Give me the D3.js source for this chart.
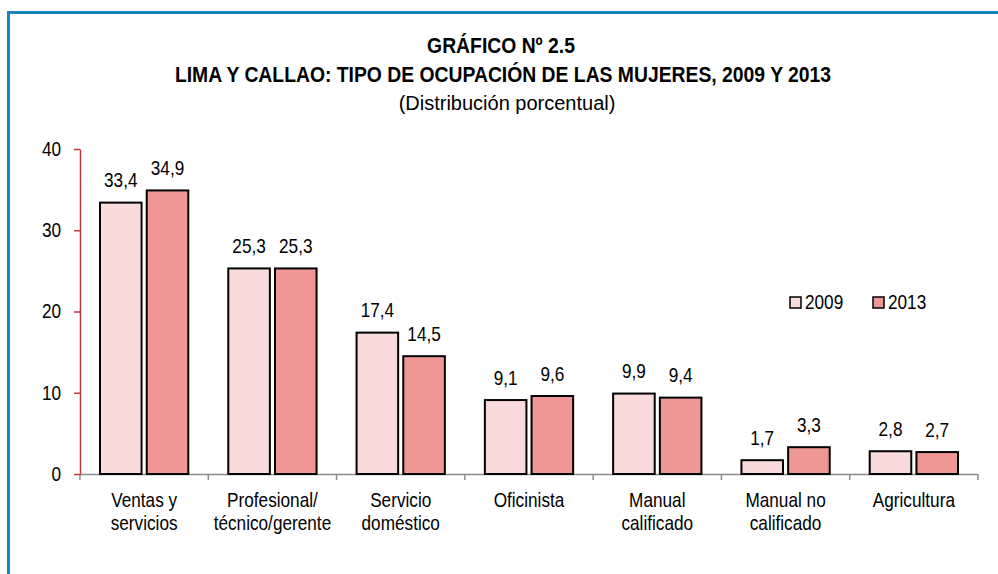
<!DOCTYPE html>
<html lang="es">
<head>
<meta charset="UTF-8">
<title>Tipo de ocupación de las mujeres</title>
<script src="https://d3js.org/d3.v7.min.js"></script>
<style>
    body { margin: 0; background: #fff; }
    svg { display: block; font-family: "Liberation Sans", Arial, sans-serif; }
</style>
</head>
<body>
<div id="chart"></div>
<script>
const categories = [
    ["Ventas y", "servicios"],
    ["Profesional/", "técnico/gerente"],
    ["Servicio", "doméstico"],
    ["Oficinista"],
    ["Manual", "calificado"],
    ["Manual no", "calificado"],
    ["Agricultura"]
];
const series = ["2009", "2013"];
const values2009 = [33.4, 25.3, 17.4, 9.1, 9.9, 1.7, 2.8];
const values2013 = [34.9, 25.3, 14.5, 9.6, 9.4, 3.3, 2.7];
const yTicks = [0, 10, 20, 30, 40];
const colors = ["#fadbdc", "#ef9794"];

const W = 998, H = 574;
const NARROW = 0.86; // no Arial Narrow here, so squeeze Liberation Sans

const svg = d3.select("#chart").append("svg")
    .attr("width", W)
    .attr("height", H);

// squeezed text helper
function label(parent, x, y, str, size, opts = {}) {
    const sx = opts.squeeze === false ? 1 : NARROW;
    return parent.append("text")
        .attr("transform", `translate(${x},${y}) scale(${sx},1)`)
        .attr("text-anchor", opts.anchor || "middle")
        .attr("font-size", size)
        .attr("font-weight", opts.weight || "normal")
        .text(str);
}

// frame
svg.append("rect")
    .attr("x", 8.5).attr("y", 12.5)
    .attr("width", W + 20).attr("height", H + 20)
    .attr("fill", "none")
    .attr("stroke", "#1a85bf")
    .attr("stroke-width", 3);

// titles
label(svg, 501, 53, "GRÁFICO Nº 2.5", 22.5, { weight: "bold" });
label(svg, 503, 82, "LIMA Y CALLAO: TIPO DE OCUPACIÓN DE LAS MUJERES, 2009 Y 2013", 22.5, { weight: "bold" });
label(svg, 507, 110, "(Distribución porcentual)", 20, { squeeze: false });

const x = d3.scaleBand().domain(d3.range(categories.length)).range([80, 978]);
const x1 = d3.scaleBand().domain(series).range([20, x.bandwidth() - 20]).paddingInner(0.11);
const y = d3.scaleLinear().domain([0, 40]).range([474, 149]);

// x axis (gray, ticks at band edges)
const xg = svg.append("g");
xg.append("line")
    .attr("x1", 80).attr("x2", 978)
    .attr("y1", 474.5).attr("y2", 474.5)
    .attr("stroke", "#8c8c8c").attr("stroke-width", 1.5);
xg.selectAll("line.tk")
    .data(d3.range(categories.length + 1))
    .join("line").attr("class", "tk")
    .attr("x1", i => 80 + i * x.step()).attr("x2", i => 80 + i * x.step())
    .attr("y1", 474).attr("y2", 480)
    .attr("stroke", "#8c8c8c").attr("stroke-width", 1.5);

// category labels
const catG = svg.append("g");
categories.forEach((lines, i) => {
    const t = label(catG, x(i) + x.bandwidth() / 2, 507, null, 20);
    t.selectAll("tspan")
        .data(lines)
        .join("tspan")
        .attr("x", 0)
        .attr("dy", (d, j) => j === 0 ? 0 : 23)
        .text(d => d);
});

// y axis (red)
const yAxis = svg.append("g")
    .attr("transform", "translate(80,0)")
    .call(d3.axisLeft(y).tickValues(yTicks).tickSize(6).tickSizeOuter(0).tickFormat(d3.format("d")));
yAxis.select(".domain").attr("stroke", "#c0393b").attr("stroke-width", 1.5);
yAxis.selectAll(".tick line").attr("stroke", "#c0393b").attr("stroke-width", 1.5);
yAxis.selectAll(".tick text")
    .attr("font-family", "inherit").attr("font-size", 20).attr("fill", "#000")
    .attr("x", -19 / NARROW)
    .attr("transform", `scale(${NARROW},1)`);

// bars
const data = categories.map((c, i) => ({ i, vals: [values2009[i], values2013[i]] }));
const groups = svg.append("g").selectAll("g")
    .data(data)
    .join("g")
    .attr("transform", d => `translate(${x(d.i)},0)`);

const barData = d => d.vals.map((v, k) => ({ s: series[k], v, k }));

groups.selectAll("rect")
    .data(barData)
    .join("rect")
    .attr("x", d => x1(d.s))
    .attr("y", d => y(d.v))
    .attr("width", x1.bandwidth())
    .attr("height", d => y(0) - y(d.v))
    .attr("fill", d => colors[d.k])
    .attr("stroke", "#000")
    .attr("stroke-width", 2);

groups.selectAll("text")
    .data(barData)
    .join("text")
    .attr("transform", d => `translate(${x1(d.s) + x1.bandwidth() / 2},${y(d.v) - 15.5}) scale(${NARROW},1)`)
    .attr("text-anchor", "middle")
    .attr("font-size", 20)
    .text(d => d.v.toFixed(1).replace(".", ","));

// legend
const legend = svg.append("g").selectAll("g")
    .data(series)
    .join("g")
    .attr("transform", (d, k) => `translate(${790 + k * 83},297)`);
legend.append("rect")
    .attr("width", 11).attr("height", 11)
    .attr("fill", (d, k) => colors[k])
    .attr("stroke", "#000").attr("stroke-width", 1.5);
legend.append("text")
    .attr("transform", `translate(15,11.5) scale(${NARROW},1)`)
    .attr("font-size", 20)
    .text(d => d);
</script>
</body>
</html>
